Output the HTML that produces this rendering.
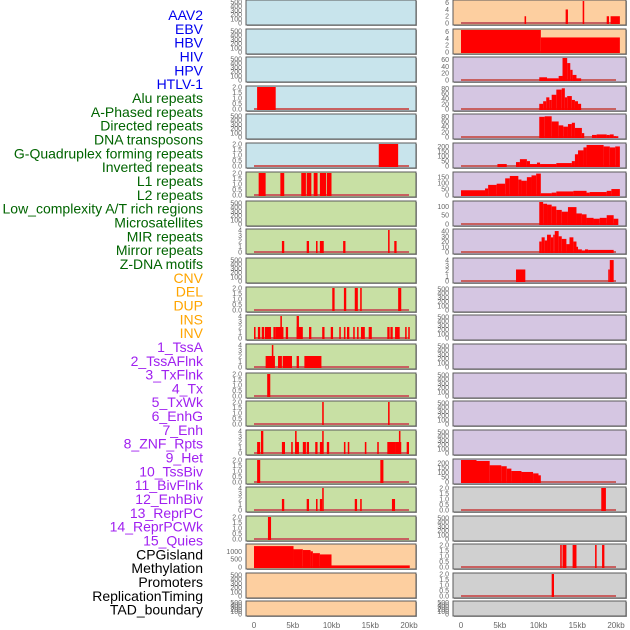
<!DOCTYPE html>
<html><head><meta charset="utf-8"><style>
html,body{margin:0;padding:0;background:#fff;}
svg{display:block;font-family:"Liberation Sans",sans-serif;}
</style></head><body>
<svg id="chart" width="630" height="630" viewBox="0 0 630 630" xmlns="http://www.w3.org/2000/svg"></svg>
<script>
// Track labels (left column)
const trackLabels = ["AAV2","EBV","HBV","HIV","HPV","HTLV-1","Alu repeats","A-Phased repeats","Directed repeats","DNA transposons","G-Quadruplex forming repeats","Inverted repeats","L1 repeats","L2 repeats","Low_complexity A/T rich regions","Microsatellites","MIR repeats","Mirror repeats","Z-DNA motifs","CNV","DEL","DUP","INS","INV","1_TssA","2_TssAFlnk","3_TxFlnk","4_Tx","5_TxWk","6_EnhG","7_Enh","8_ZNF_Rpts","9_Het","10_TssBiv","11_BivFlnk","12_EnhBiv","13_ReprPC","14_ReprPCWk","15_Quies","CPGisland","Methylation","Promoters","ReplicationTiming","TAD_boundary"];
const labelGroups = [0,0,0,0,0,0,1,1,1,1,1,1,1,1,1,1,1,1,1,2,2,2,2,2,3,3,3,3,3,3,3,3,3,3,3,3,3,3,3,4,4,4,4,4];
// Panel background groups per column
const col1Groups = [0,0,0,0,0,0,1,1,1,1,1,1,1,1,1,1,1,1,1,2,2,2];
const col2Groups = [2,2,3,3,3,3,3,3,3,3,3,3,3,3,3,3,3,4,4,4,4,4];
// y-axis maxima (0 = empty track)
const col1Max = [0,0,0,2,0,2,2,0,4,0,2,4,4,2,2,4,2,4,2,1400,0,0];
const col2Max = [6.5,6.5,65,85,85,225,185,125,42,4.2,0,0,0,0,0,0,230,2,0,2,2,0];
// segments: [startKb, endKb, value]
const col1Data = [
 [],[],[],
 [[0.4,2.8,2]],
 [],
 [[16.1,18.6,2]],
 [[0.6,1.5,2],[3.4,3.9,2],[6.1,6.7,2],[6.8,7.4,2],[7.7,8.2,2],[8.5,9.3,2],[9.4,10.0,2]],
 [],
 [[3.6,3.9,2],[6.8,7.1,2],[8.0,8.2,2],[8.5,9.0,2],[11.5,11.8,2],[17.3,17.5,4],[18.1,18.4,2]],
 [],
 [[10.1,10.4,2],[11.6,11.9,2],[13.0,13.4,2],[13.7,13.9,2],[18.6,19.0,2]],
 [[0,0.2,2],[0.5,0.8,2],[1.0,1.3,2],[1.4,2.2,2],[2.5,2.8,2],[2.8,3.8,2],[3.4,3.6,4],[4.1,4.4,2],[5.5,6.3,2],[5.5,5.8,4],[7.1,7.4,2],[8.8,9.1,2],[9.9,10.2,2],[11.0,11.2,2],[11.6,11.8,2],[12.0,12.3,2],[12.8,13.0,2],[13.3,13.5,2],[13.8,14.3,2],[14.8,15.2,2],[17.2,17.5,2],[17.6,17.9,2],[18.2,18.8,2],[19.5,19.7,2],[19.9,20.1,2]],
 [[1.5,2.7,2],[2.3,2.5,4],[3.1,3.6,2],[3.7,4.9,2],[5.5,5.8,2],[6.5,8.7,2]],
 [[1.7,2.1,2]],
 [[8.8,9.0,2],[17.3,17.5,2]],
 [[0.4,0.8,2],[0.9,1.2,4],[3.6,4.0,2],[4.8,5.0,2],[5.3,5.8,2],[5.3,5.5,4],[6.3,6.7,2],[6.8,7.1,2],[7.9,8.2,2],[8.5,8.9,2],[8.8,8.9,4],[9.4,9.7,2],[11.6,11.8,2],[12.1,12.3,2],[14.3,14.5,2],[15.9,16.1,2],[17.2,18.2,2],[18.2,19.0,2],[18.7,18.9,4],[19.7,20.0,2]],
 [[0.4,0.8,2],[16.3,16.7,2]],
 [[3.6,3.9,2],[6.8,7.1,2],[8.0,8.2,2],[8.5,8.8,2],[8.8,9.0,4],[13.0,13.3,2],[13.7,13.9,2],[17.8,18.2,2]],
 [[1.8,2.2,2]],
 [[0,5.1,1330],[5.1,6.3,1130],[6.3,7.3,1080],[7.3,7.6,1000],[7.6,8.5,880],[8.5,10,800],[10,20.1,100]],
 [],[]
];
const col2Data = [
 [[8.2,8.4,2],[13.5,13.8,4],[15.7,15.9,6.5],[18.8,19.1,2],[19.3,20.5,2]],
 [[0,10.3,6.5],[10.3,20.5,4.3]],
 [[10.1,11.1,8],[11.1,12.6,5],[12.6,13.1,12],[13.1,13.7,65],[13.7,14.1,50],[14.1,14.4,30],[14.4,14.9,15],[14.9,15.5,5]],
 [[10.1,10.6,20],[10.6,11.0,30],[11.0,11.4,45],[11.4,11.7,35],[11.7,12.3,55],[12.3,13.0,75],[13.0,13.4,80],[13.4,13.7,45],[13.7,14.3,50],[14.3,14.7,35],[14.7,15.1,30],[15.1,15.5,20]],
 [[10.1,10.8,78],[10.8,11.7,80],[11.7,12.6,60],[12.6,13.2,45],[13.2,13.8,40],[13.8,14.3,50],[14.3,14.7,55],[14.7,15.6,35],[15.6,15.9,15],[16.9,17.5,8],[17.5,18.8,10],[18.8,19.2,8],[19.2,19.7,10],[19.7,20.3,3]],
 [[4.7,5.9,20],[7.1,7.6,40],[7.6,8.5,70],[8.5,8.9,50],[8.9,9.8,20],[9.8,10.2,35],[10.2,12.3,20],[12.3,14.3,30],[14.3,14.7,50],[14.7,15.1,120],[15.1,15.8,160],[15.8,16.2,190],[16.2,18.4,215],[18.4,19.2,200],[19.2,19.9,190],[19.9,20.5,200]],
 [[0,3.1,40],[3.1,3.5,55],[3.5,4.6,85],[4.6,5.7,95],[5.7,6.3,140],[6.3,7.4,160],[7.4,7.8,130],[7.8,8.5,120],[8.5,9.1,150],[9.1,9.7,165],[9.7,10.3,180],[10.3,11.7,15],[11.7,12.3,20],[12.3,14.5,30],[14.5,16.2,35],[16.2,16.6,20],[16.6,18.8,25],[18.8,19.4,35],[19.4,20.5,50]],
 [[10.1,10.6,125],[10.6,11.1,115],[11.1,11.7,110],[11.7,12.3,100],[12.3,13.0,80],[13.0,13.8,70],[13.8,14.9,96],[14.9,15.6,60],[15.6,16.2,55],[16.2,17.1,35],[17.1,17.9,30],[17.9,18.8,35],[18.8,19.7,50],[19.7,20.3,30]],
 [[10.1,10.4,20],[10.4,10.8,28],[10.8,11.1,22],[11.1,11.6,33],[11.6,11.9,28],[11.9,12.1,33],[12.1,12.6,40],[12.6,13.0,30],[13.0,13.6,25],[13.6,14.0,15],[14.0,14.5,28],[14.5,14.9,20],[14.9,15.1,10],[15.1,15.6,5],[15.6,16.0,3],[16.0,16.4,5],[16.4,19.7,4]],
 [[7.1,8.3,2.2],[19.0,19.2,2.2],[19.2,19.7,4]],
 [],[],[],[],[],[],
 [[0,2.0,230],[2.0,3.7,220],[3.7,5.2,175],[5.2,5.9,165],[5.9,6.5,140],[6.5,7.8,115],[7.8,9.3,105],[9.3,10.0,90],[10.0,10.3,70]],
 [[18.1,18.7,2]],
 [],
 [[12.8,13.0,2],[13.1,13.6,2],[14.4,14.9,2],[17.3,17.5,2],[18.2,18.5,2]],
 [[11.7,12.0,2]],
 []
];
const xTickKb = [0,5,10,15,20];
const xTickLabels = ["0","5kb","10kb","15kb","20kb"];

const NS = "http://www.w3.org/2000/svg";
const svg = document.getElementById("chart");
function mk(tag, attrs, parent){const e=document.createElementNS(NS,tag);for(const k in attrs)e.setAttribute(k,attrs[k]);(parent||svg).appendChild(e);return e;}

const labelColors = ["#0000ee","#006400","#ffa500","#a020f0","#000000"];
const bgColors = ["#c8e4ec","#c8e0a4","#fdcfa0","#d5c6e2","#d0d0d0"];
const panelTops = [0,29,57,86,114,143,172,201,229,258,287,315,344,373,401,430,459,487,516,544,573,601];
const panelHeights = panelTops.map((t,i)=> i===21 ? 15 : 25);
const cols = [{left:246,right:416,x0:254,x20:409},{left:453,right:626,x0:461,x20:616}];

// Labels
trackLabels.forEach((lab,i)=>{
  const t = mk("text",{x:203,y:(15+i*13.83+5).toFixed(1),"text-anchor":"end","font-size":"14",fill:labelColors[labelGroups[i]]});
  t.textContent = lab;
  
  
});

function ticksFor(max){
  if(max===0) return {vals:[0,100,200,300,400,500],max:520,dec:0};
  if(max<=2.2) return {vals:[0,0.5,1,1.5,2],max:max,dec:1};
  if(max<=4.2) return {vals:[0,1,2,3,4],max:max,dec:0};
  if(max<=7) return {vals:[0,2,4,6],max:max,dec:0};
  if(max<=45) return {vals:[0,10,20,30,40],max:max,dec:0};
  if(max<=70) return {vals:[0,20,40,60],max:max,dec:0};
  if(max<=90) return {vals:[0,20,40,60,80],max:max,dec:0};
  if(max<=130) return {vals:[0,50,100],max:max,dec:0};
  if(max<=190) return {vals:[0,50,100,150],max:max,dec:0};
  if(max<=300) return {vals:[0,50,100,150,200],max:max,dec:0};
  return {vals:[0,500,1000],max:max,dec:0};
}

function drawColumn(ci, groups, maxes, data){
  const c = cols[ci];
  const xs = kb => c.x0 + (kb/20)*(c.x20-c.x0);
  panelTops.forEach((top,pi)=>{
    const h = panelHeights[pi];
    const g = mk("g",{});
    
    
    mk("rect",{x:c.left+1,y:top+1,width:c.right-c.left,height:h,fill:"#a0a0a0"},g);
    mk("rect",{x:c.left,y:top,width:c.right-c.left,height:h,fill:bgColors[groups[pi]],stroke:"#5a5a5a","stroke-width":1},g);
    const tk = ticksFor(maxes[pi]);
    const yb = top+h-2, yt = top+1;
    const ys = v => yb - (v/tk.max)*(yb-yt);
    tk.vals.forEach(v=>{
      const t = mk("text",{x:c.left-4,y:(ys(v)+2.5).toFixed(1),"text-anchor":"end","font-size":"7",fill:"#666"},g);
      t.textContent = v.toFixed(tk.dec);
      
      
    });
    if(maxes[pi]>0){
      mk("rect",{x:c.x0,y:yb-1,width:c.x20-c.x0,height:2,fill:"#c86060"},g);
      data[pi].forEach(s=>{
        const r = mk("rect",{x:xs(s[0]).toFixed(2),y:ys(s[2]).toFixed(2),width:Math.max(1.5,xs(s[1])-xs(s[0])).toFixed(2),height:(yb-ys(s[2])+1).toFixed(2),fill:"#ff0000"},g);
        
        
      });
    }
  });
  xTickKb.forEach((k,i)=>{
    const t = mk("text",{x:xs(k).toFixed(1),y:628,"text-anchor":"middle","font-size":"8",fill:"#666"});
    t.textContent = xTickLabels[i];
    
    
  });
}
drawColumn(0,col1Groups,col1Max,col1Data);
drawColumn(1,col2Groups,col2Max,col2Data);
</script>
</body></html>
